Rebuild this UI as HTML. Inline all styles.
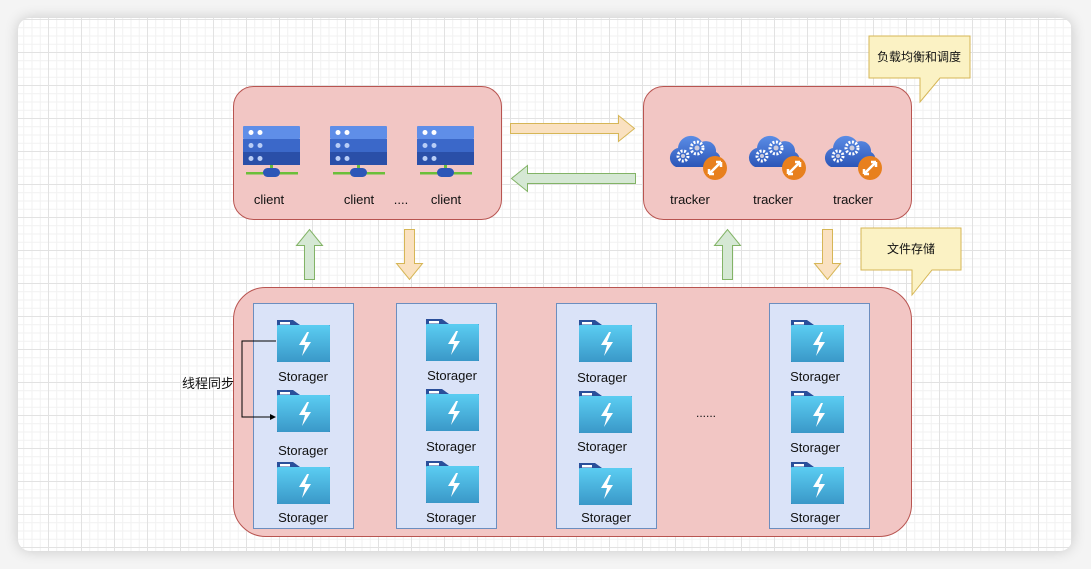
<!DOCTYPE html>
<html><head><meta charset="utf-8"><style>
html,body{margin:0;padding:0;width:1091px;height:569px;background:#f4f4f4;overflow:hidden}
.card{position:absolute;left:18px;top:18px;width:1054px;height:533px;border-radius:12px;background-color:#fff;
box-shadow:0 0 14px rgba(0,0,0,0.18);
background-image:linear-gradient(#e2e2e2 1px,transparent 1px),linear-gradient(90deg,#e2e2e2 1px,transparent 1px),linear-gradient(#f1f1f1 1px,transparent 1px),linear-gradient(90deg,#f1f1f1 1px,transparent 1px);
background-size:33px 33px,33px 33px,8.25px 8.25px,8.25px 8.25px;background-position:-3px 1px,-3px 1px,-3px 1px,-3px 1px}
svg{position:absolute;left:0;top:0}
text{font-family:"Liberation Sans","Noto Sans CJK SC",sans-serif;font-size:12px;fill:#111}
text.s{font-size:13px}
</style></head><body>
<div class="card"></div>
<svg width="1091" height="569" viewBox="0 0 1091 569">
<defs>
<linearGradient id="fold" x1="0" y1="0" x2="0" y2="1"><stop offset="0" stop-color="#5bcdf2"/><stop offset="1" stop-color="#3a98c8"/></linearGradient>
<linearGradient id="cl" x1="0" y1="0" x2="0" y2="1"><stop offset="0" stop-color="#5b8de6"/><stop offset="1" stop-color="#2c56b8"/></linearGradient>
<g id="stor">
<path d="M0,0 h16 l7,5 h30 v37 h-53z" fill="#2a4f9a"/>
<rect x="0" y="5" width="53" height="37" rx="1" fill="url(#fold)"/>
<rect x="3" y="2" width="10" height="2.5" fill="#fff"/>
<path d="M30,12 l-8,13 h6 l-3,11 l9,-14 h-6 l4,-10z" fill="#fff"/>
</g>
<g id="srv">
<rect x="0" y="0" width="57" height="13" rx="1" fill="#5f8ee8"/>
<rect x="0" y="13" width="57" height="13" fill="#3b68c9"/>
<rect x="0" y="26" width="57" height="13" fill="#2a4fa8"/>
<circle cx="8" cy="6.5" r="2.5" fill="#fff"/><circle cx="17" cy="6.5" r="2.5" fill="#fff"/>
<circle cx="8" cy="19.5" r="2.5" fill="#b8cdf6"/><circle cx="17" cy="19.5" r="2.5" fill="#b8cdf6"/>
<circle cx="8" cy="32.5" r="2.5" fill="#b8cdf6"/><circle cx="17" cy="32.5" r="2.5" fill="#b8cdf6"/>
<rect x="27" y="39" width="3" height="5" fill="#6bbf3a"/>
<rect x="3" y="46" width="52" height="2.5" fill="#6bbf3a"/>
<rect x="20" y="42" width="17" height="9" rx="4.5" fill="#2c56b8"/>
</g>
<g id="trk">
<path d="M6,36 a10,10 0 0 1 2,-19 a13,13 0 0 1 24,-6 a10,10 0 0 1 14,10 a8,8 0 0 1 -2,15z" fill="url(#cl)"/>
<circle cx="13" cy="25" r="5" fill="none" stroke="#fff" stroke-width="3" stroke-dasharray="2 1.5"/>
<circle cx="13" cy="25" r="2" fill="#ccd"/>
<circle cx="27" cy="17" r="6" fill="none" stroke="#fff" stroke-width="3" stroke-dasharray="2 1.5"/>
<circle cx="27" cy="17" r="2.5" fill="#ccd"/>
<circle cx="45" cy="37" r="12" fill="#e8801e"/>
<path d="M39,43 l12,-12 M39,43 v-5 M39,43 h5 M51,31 h-5 M51,31 v5" stroke="#fff" stroke-width="2.5" fill="none"/>
</g>
</defs>
<path d="M869,36 h101 v42 h-30 l-20,24 v-24 h-51z" fill="#fbf2c4" stroke="#d6b656"/>
<text x="919" y="61" text-anchor="middle">负载均衡和调度</text>
<path d="M861,228 h100 v42 h-29 l-20,25 v-25 h-51z" fill="#fbf2c4" stroke="#d6b656"/>
<text x="911" y="253" text-anchor="middle">文件存储</text>
<rect x="233.5" y="86.5" width="268" height="133" rx="20" fill="#f2c6c4" stroke="#b85450"/>
<rect x="643.5" y="86.5" width="268" height="133" rx="20" fill="#f2c6c4" stroke="#b85450"/>
<rect x="233.5" y="287.5" width="678" height="249" rx="32" fill="#f2c6c4" stroke="#b85450"/>
<path d="M510.5,123.5 h108 v-8 l16,13 l-16,13 v-8 h-108z" fill="#fae1c0" stroke="#d6b656"/>
<path d="M635.5,173.5 h-108 v-8 l-16,13 l16,13 v-8 h108z" fill="#d5e8d4" stroke="#82b366"/>
<path d="M304.5,279.5 v-34 h-8 l13,-16 l13,16 h-8 v34z" fill="#d5e8d4" stroke="#82b366"/>
<path d="M404.5,229.5 v34 h-8 l13,16 l13,-16 h-8 v-34z" fill="#fae1c0" stroke="#d6b656"/>
<path d="M722.5,279.5 v-34 h-8 l13,-16 l13,16 h-8 v34z" fill="#d5e8d4" stroke="#82b366"/>
<path d="M822.5,229.5 v34 h-8 l13,16 l13,-16 h-8 v-34z" fill="#fae1c0" stroke="#d6b656"/>
<use href="#srv" x="243" y="126"/><use href="#srv" x="330" y="126"/><use href="#srv" x="417" y="126"/>
<text class="s" x="269" y="204" text-anchor="middle">client</text>
<text class="s" x="359" y="204" text-anchor="middle">client</text>
<text class="s" x="401" y="204" text-anchor="middle">....</text>
<text class="s" x="446" y="204" text-anchor="middle">client</text>
<use href="#trk" x="670" y="131"/><use href="#trk" x="749" y="131"/><use href="#trk" x="825" y="131"/>
<text class="s" x="690" y="204" text-anchor="middle">tracker</text>
<text class="s" x="773" y="204" text-anchor="middle">tracker</text>
<text class="s" x="853" y="204" text-anchor="middle">tracker</text>
<rect x="253.5" y="303.5" width="100" height="225" fill="#dae3f8" stroke="#6c8ebf"/>
<rect x="396.5" y="303.5" width="100" height="225" fill="#dae3f8" stroke="#6c8ebf"/>
<rect x="556.5" y="303.5" width="100" height="225" fill="#dae3f8" stroke="#6c8ebf"/>
<rect x="769.5" y="303.5" width="100" height="225" fill="#dae3f8" stroke="#6c8ebf"/>
<use href="#stor" x="277" y="320"/><use href="#stor" x="277" y="390"/><use href="#stor" x="277" y="462"/>
<text class="s" x="303" y="381" text-anchor="middle">Storager</text><text class="s" x="303" y="455" text-anchor="middle">Storager</text><text class="s" x="303" y="522" text-anchor="middle">Storager</text>
<use href="#stor" x="426" y="319"/><use href="#stor" x="426" y="389"/><use href="#stor" x="426" y="461"/>
<text class="s" x="452" y="380" text-anchor="middle">Storager</text><text class="s" x="451" y="451" text-anchor="middle">Storager</text><text class="s" x="451" y="522" text-anchor="middle">Storager</text>
<use href="#stor" x="579" y="320"/><use href="#stor" x="579" y="391"/><use href="#stor" x="579" y="463"/>
<text class="s" x="602" y="382" text-anchor="middle">Storager</text><text class="s" x="602" y="451" text-anchor="middle">Storager</text><text class="s" x="606" y="522" text-anchor="middle">Storager</text>
<use href="#stor" x="791" y="320"/><use href="#stor" x="791" y="391"/><use href="#stor" x="791" y="462"/>
<text class="s" x="815" y="381" text-anchor="middle">Storager</text><text class="s" x="815" y="452" text-anchor="middle">Storager</text><text class="s" x="815" y="522" text-anchor="middle">Storager</text>
<text x="706" y="417" text-anchor="middle">......</text>
<path d="M276,341 h-34 v76 h28" fill="none" stroke="#000" stroke-width="1"/>
<path d="M276,417 l-6,-3 v6z" fill="#000"/>
<text class="s" x="208" y="388" text-anchor="middle">线程同步</text>
</svg>
</body></html>
